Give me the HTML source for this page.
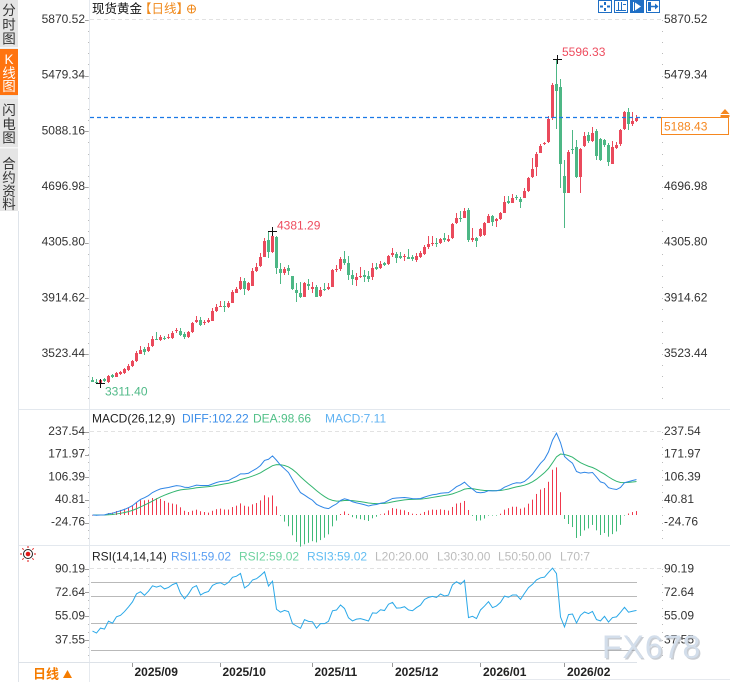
<!DOCTYPE html>
<html><head><meta charset="utf-8">
<style>
html,body{margin:0;padding:0;background:#fff;}
body{width:730px;height:682px;overflow:hidden;position:relative;}
svg{position:absolute;left:0;top:0;font-family:"Liberation Sans","Noto Sans CJK SC",sans-serif;}
.ax{font-size:12px;fill:#333;}
.sb{font-size:13.5px;fill:#333;text-anchor:middle;font-family:"Liberation Sans","Noto Sans CJK SC",sans-serif;}
.mo{font-size:12px;font-weight:bold;fill:#222;}
</style></head><body>
<svg width="730" height="682" viewBox="0 0 730 682">
<!-- sidebar -->
<rect x="0" y="0" width="18" height="211" fill="#e5e5e5"/>
<rect x="0" y="47" width="18" height="1.5" fill="#f6f6f6"/>
<rect x="0" y="49" width="18" height="46" fill="#ff7410"/>
<rect x="0" y="96" width="18" height="3" fill="#ececec"/>
<rect x="0" y="147" width="18" height="1.5" fill="#f6f6f6"/>
<text class="sb" x="9" y="15">分</text>
<text class="sb" x="9" y="29.5">时</text>
<text class="sb" x="9" y="43.5">图</text>
<text class="sb" x="9" y="64" style="fill:#fff">K</text>
<text class="sb" x="9" y="78" style="fill:#fff">线</text>
<text class="sb" x="9" y="91" style="fill:#fff">图</text>
<text class="sb" x="9" y="115">闪</text>
<text class="sb" x="9" y="129">电</text>
<text class="sb" x="9" y="142.5">图</text>
<text class="sb" x="9" y="168.5">合</text>
<text class="sb" x="9" y="182.5">约</text>
<text class="sb" x="9" y="196">资</text>
<text class="sb" x="9" y="209">料</text>
<line x1="18.5" y1="211" x2="18.5" y2="682" stroke="#dfe4ea"/>
<line x1="89.5" y1="0" x2="89.5" y2="682" stroke="#e6eaef"/>
<!-- panel separators -->
<line x1="19" y1="409.5" x2="730" y2="409.5" stroke="#e3e8ee"/>
<line x1="19" y1="545.5" x2="730" y2="545.5" stroke="#e3e8ee"/>
<line x1="19" y1="662.5" x2="637" y2="662.5" stroke="#dde2e8"/>
<line x1="497" y1="679.5" x2="730" y2="679.5" stroke="#e6e9ee"/>
<!-- top dashed grids -->
<line x1="90" y1="19.5" x2="661" y2="19.5" stroke="#e2e2e2" stroke-dasharray="4 3"/>
<line x1="90" y1="431.5" x2="661" y2="431.5" stroke="#e2e2e2" stroke-dasharray="4 3"/>
<line x1="90" y1="568.5" x2="661" y2="568.5" stroke="#e2e2e2" stroke-dasharray="4 3"/>
<g id="ticks"></g>
<!-- title -->
<text x="92" y="13" style="font-size:12.5px;fill:#111">现货黄金</text>
<text x="139" y="13" style="font-size:12.5px;fill:#f08a1c">【日线】</text>
<circle cx="191.5" cy="9" r="4" fill="none" stroke="#f08a1c" stroke-width="1"/>
<line x1="187.5" y1="9" x2="195.5" y2="9" stroke="#f08a1c"/>
<line x1="191.5" y1="5" x2="191.5" y2="13" stroke="#f08a1c"/>
<!-- top-right icons -->
<rect x="598.5" y="0.5" width="13" height="12" fill="#fff" stroke="#1f6fc5"/>
<rect x="604" y="2" width="2" height="3" fill="#1f6fc5"/><rect x="604" y="8" width="2" height="3" fill="#1f6fc5"/>
<rect x="600" y="5.5" width="3" height="2" fill="#1f6fc5"/><rect x="607" y="5.5" width="3" height="2" fill="#1f6fc5"/>
<rect x="614.5" y="0.5" width="13" height="12" fill="#fff" stroke="#1f6fc5"/>
<line x1="618.5" y1="2" x2="618.5" y2="10" stroke="#1f6fc5"/><line x1="621.5" y1="2" x2="621.5" y2="10" stroke="#1f6fc5"/>
<line x1="616" y1="10.5" x2="626" y2="10.5" stroke="#1f6fc5"/><line x1="623" y1="4.5" x2="626" y2="4.5" stroke="#1f6fc5"/>
<rect x="630.5" y="0.5" width="13" height="12" fill="#1f6fc5" stroke="#1f6fc5"/>
<line x1="633.5" y1="2" x2="633.5" y2="11" stroke="#fff"/><polygon points="635,2.5 641,6.5 635,10.5" fill="#fff"/>
<rect x="646.5" y="0.5" width="13" height="12" fill="#fff" stroke="#1f6fc5"/>
<rect x="648" y="2" width="3" height="9" fill="#1f6fc5"/><line x1="651" y1="6.5" x2="656" y2="6.5" stroke="#1f6fc5" stroke-width="1.5"/><polygon points="655,3.5 658.5,6.5 655,9.5" fill="#1f6fc5"/>
<!-- main axis labels -->
<g class="ax" text-anchor="end">
<text x="85" y="23">5870.52</text>
<text x="85" y="78.7">5479.34</text>
<text x="85" y="134.4">5088.16</text>
<text x="85" y="190">4696.98</text>
<text x="85" y="245.7">4305.80</text>
<text x="85" y="301.4">3914.62</text>
<text x="85" y="357.1">3523.44</text>
</g>
<g class="ax">
<text x="664" y="23">5870.52</text>
<text x="664" y="78.7">5479.34</text>
<text x="664" y="190">4696.98</text>
<text x="664" y="245.7">4305.80</text>
<text x="664" y="301.4">3914.62</text>
<text x="664" y="357.1">3523.44</text>
</g>
<!-- candles -->
<g id="candles"></g>
<!-- current price line -->
<line x1="90" y1="117.5" x2="661" y2="117.5" stroke="#1a78e6" stroke-width="1.2" stroke-dasharray="4 3"/>
<rect x="661.5" y="117.5" width="67" height="17" fill="#fff" stroke="#f5871f"/>
<text x="664" y="130.5" style="font-size:12px;fill:#f5871f">5188.43</text>
<polygon points="725,109 729.5,114 720.5,114" fill="#f5871f"/>
<rect x="720.5" y="115" width="9" height="2" fill="#f5871f"/>
<!-- hi/lo markers -->
<g stroke="#111" stroke-width="1">
<line x1="268" y1="231.5" x2="277" y2="231.5"/><line x1="272.5" y1="227" x2="272.5" y2="236"/>
<line x1="553" y1="59.5" x2="562" y2="59.5"/><line x1="557.5" y1="55" x2="557.5" y2="64"/>
<line x1="96" y1="383.5" x2="105" y2="383.5"/><line x1="100.5" y1="379" x2="100.5" y2="388"/>
</g>
<text x="277" y="229.5" style="font-size:12px;fill:#ee4d5f">4381.29</text>
<text x="562" y="56" style="font-size:12px;fill:#ee4d5f">5596.33</text>
<text x="105" y="395.5" style="font-size:12px;fill:#4fb987">3311.40</text>
<!-- MACD -->
<text x="92" y="422.5" style="font-size:12px;fill:#222">MACD(26,12,9)</text>
<text x="182" y="422.5" style="font-size:12px;fill:#3b8de8">DIFF:102.22</text>
<text x="253" y="422.5" style="font-size:12px;fill:#52c088">DEA:98.66</text>
<text x="325" y="422.5" style="font-size:12px;fill:#5fb2f2">MACD:7.11</text>
<g class="ax" text-anchor="end">
<text x="85" y="435">237.54</text>
<text x="85" y="457.6">171.97</text>
<text x="85" y="480.3">106.39</text>
<text x="85" y="503">40.81</text>
<text x="85" y="525.6">-24.76</text>
</g>
<g class="ax">
<text x="664" y="435">237.54</text>
<text x="664" y="457.6">171.97</text>
<text x="664" y="480.3">106.39</text>
<text x="664" y="503">40.81</text>
<text x="664" y="525.6">-24.76</text>
</g>
<g id="macd"></g>
<!-- RSI -->
<g transform="translate(28,554)">
<circle r="4.5" fill="none" stroke="#222"/>
<circle r="2.3" fill="#e01818"/>
<g stroke="#e01818" stroke-width="1">
<line x1="6" y1="0" x2="8" y2="0"/><line x1="-6" y1="0" x2="-8" y2="0"/>
<line x1="0" y1="6" x2="0" y2="8"/><line x1="0" y1="-6" x2="0" y2="-8"/>
<line x1="4.3" y1="4.3" x2="5.7" y2="5.7"/><line x1="-4.3" y1="4.3" x2="-5.7" y2="5.7"/>
<line x1="4.3" y1="-4.3" x2="5.7" y2="-5.7"/><line x1="-4.3" y1="-4.3" x2="-5.7" y2="-5.7"/>
</g></g>
<text x="92" y="560.5" style="font-size:12px;fill:#222">RSI(14,14,14)</text>
<text x="171" y="560.5" style="font-size:12px;fill:#5b9ff2">RSI1:59.02</text>
<text x="239" y="560.5" style="font-size:12px;fill:#6fd3a0">RSI2:59.02</text>
<text x="307" y="560.5" style="font-size:12px;fill:#62bdf2">RSI3:59.02</text>
<text x="375" y="560.5" style="font-size:12px;fill:#bcbcbc">L20:20.00</text>
<text x="437" y="560.5" style="font-size:12px;fill:#bcbcbc">L30:30.00</text>
<text x="498" y="560.5" style="font-size:12px;fill:#bcbcbc">L50:50.00</text>
<text x="560" y="560.5" style="font-size:12px;fill:#bcbcbc">L70:7</text>
<g stroke="#b9b9b9">
<line x1="91" y1="582.5" x2="637" y2="582.5"/>
<line x1="91" y1="596.5" x2="637" y2="596.5"/>
<line x1="91" y1="623.5" x2="637" y2="623.5"/>
<line x1="91" y1="650.5" x2="637" y2="650.5"/>
</g>
<g class="ax" text-anchor="end">
<text x="85" y="572.6">90.19</text>
<text x="85" y="595.8">72.64</text>
<text x="85" y="619.3">55.09</text>
<text x="85" y="643.3">37.55</text>
</g>
<g class="ax">
<text x="664" y="572.6">90.19</text>
<text x="664" y="595.8">72.64</text>
<text x="664" y="619.3">55.09</text>
<text x="664" y="643.3">37.55</text>
</g>
<g id="rsi"></g>
<!-- bottom axis -->
<g stroke="#999">
<line x1="132.5" y1="663" x2="132.5" y2="667"/>
<line x1="220.5" y1="663" x2="220.5" y2="667"/>
<line x1="312.5" y1="663" x2="312.5" y2="667"/>
<line x1="392.5" y1="663" x2="392.5" y2="667"/>
<line x1="480.5" y1="663" x2="480.5" y2="667"/>
<line x1="564.5" y1="663" x2="564.5" y2="667"/>
</g>
<text class="mo" x="134.5" y="676">2025/09</text>
<text class="mo" x="222.5" y="676">2025/10</text>
<text class="mo" x="314.5" y="676">2025/11</text>
<text class="mo" x="395" y="676">2025/12</text>
<text class="mo" x="483" y="676">2026/01</text>
<text class="mo" x="567" y="676">2026/02</text>
<line x1="19" y1="662.5" x2="89" y2="662.5" stroke="#dde2e8"/>
<text x="33" y="678.5" style="font-size:13px;font-weight:bold;fill:#f57c00">日线</text>
<polygon points="67.5,670 72,678 63,678" fill="#f57c00"/>
<!-- watermark -->
<text x="603.5" y="659.5" style="font-size:32px;fill:#9ea6b0;opacity:0.55;letter-spacing:1px">FX678</text>
<text x="602" y="658" style="font-size:32px;fill:#d3deeb;letter-spacing:1px">FX678</text>
</svg>
<script>
(function(){
var D="g,380.3,381.7,376.7,382.3;g,381.7,383.3,379.3,384;r,380.3,383.3,378.7,384;g,379,381,378,381.7;r,376,381.7,374.7,383.3;g,375.3,377.3,374.3,378;r,373,376.7,371.7,377.3;r,372,374,371.3,375;r,369.3,373,368,374;r,365.7,370,364,371;r,361.3,366,360,366.7;r,352.7,361.3,351,362;r,350,353.7,346,354.3;g,349,351.7,347.3,354.7;r,346.7,351,343.3,351.7;r,338.7,346,336,346.7;g,338.7,339.3,332,340;r,337.3,340,335,341;g,337.7,338.7,336,340.3;r,336.7,338.3,334.3,339;r,332.7,338,331.3,339;r,330.3,331.3,327.7,332.7;g,330.7,334.7,328.3,336;g,333.7,337.3,332,338.7;r,332,336.7,331,337.7;r,323.3,332,322,332.7;r,320.3,322.3,316,323;g,320,325,316.7,326;r,322,323.3,319.7,324.7;r,320.3,321.7,318,323.3;r,311,320.7,308.3,321.3;r,307.3,310.7,304,311.7;r,306,306.7,301,307.3;g,306,307,300.7,312.3;r,302.7,307.3,301,308.3;r,291.7,302.7,290,303.3;r,289,292.7,286.7,293.3;r,281,289.3,277.3,290;g,281,289,277.7,295;r,283.3,290,281.7,291.3;r,270.7,285.7,267.7,286.3;r,267,271,263.3,272;r,256.7,266.3,253.3,267;r,240.7,256.7,238.3,257.3;g,240,251.7,231,258.3;r,235.7,251.7,231.7,253.3;g,237.3,268.3,235.7,274;g,269,272.7,263.3,284.3;r,269,272.7,267.3,275;g,268.3,270.7,265,275;g,276,289.3,276,290;g,290,293.3,283.3,301.7;g,292.7,297.3,281.7,298.3;r,283.3,296.7,282.3,297.3;g,284,286,279,290;r,286.7,289,282.3,293.3;g,286.7,296.7,285.3,297.3;r,290,296,286.7,296.7;g,288.7,290,283.3,290.7;r,286.7,289.3,283.3,290;r,270,286.7,269,287.3;r,268.7,270,265,271.7;r,259.3,269.3,257.3,270.7;g,259.3,263.3,251,265;g,263.3,275,256,280;g,275,279.3,270,285;r,276.7,280,273.3,285.7;r,276,276.7,266.7,278.3;g,275.3,277.3,270,281.7;g,276,278.7,271,282.3;r,268.3,276.7,263.3,280;g,267,268.7,263.3,270;r,264,267.7,260.7,268.7;g,263.3,264.7,261.7,266;r,256,263.7,255,264.7;r,253.3,255,248.3,256.7;g,254,258,251.7,262.7;g,256,257.7,251.7,259.3;r,256.3,257.3,254,260.7;g,257,258.7,249,258.7;g,257.3,259.3,255,260.7;r,256,260,253.3,261.7;r,253.3,256.7,251,258.3;r,246.7,254,245,255;r,244,247.3,236,249.3;r,242.7,244,236,246;g,242.7,243.3,237.7,246.7;r,239,243.3,238.3,244;g,238,240,232.7,241.7;r,239,240.7,235,242.3;r,224,238.3,222.7,239;r,217.7,223.3,213.3,224;g,218,219,211,221.7;r,211,217.7,207.7,218.3;g,210,240,207.7,242.3;r,238.3,240,228.3,241.7;g,238.3,240.7,236.7,246.7;r,229.3,235.7,228.3,236.7;r,223.3,235,221.7,235.7;r,216,222.7,214.3,223.3;g,216,221.7,214.7,225.7;r,219,220.7,218.3,227.3;r,213.3,219,211.7,220;r,201.7,212.7,195.7,213.3;g,200.7,202.7,196,204;r,198.3,202.7,194.3,203.3;g,196.7,198.3,195.3,200;g,199,201.7,196.7,208.3;r,191,197.7,188.3,198.3;r,178,190.7,176.7,191.7;r,169,177.3,158.3,178.3;r,154.3,167.3,151.7,175.7;r,146,152.7,144.3,153.3;r,143.3,144.3,141.7,145;r,119.3,141.7,116,142.7;r,84.7,118.3,83.3,120;g,84,90.7,59,129;g,87.3,164,79,187.7;g,176,192.7,160,228.3;r,152,192.7,150,193.3;g,148.7,149.7,130,154;g,147.3,177.3,140,178.3;r,149.3,177.3,148.3,192.7;r,136,146,131.7,146.7;g,135,140.7,131.7,143.3;r,132.7,140.7,127.3,141.7;g,130.7,156,129,160;g,139.3,160,138.3,160.7;g,140,145,139,146.7;g,145,161.7,143.3,166;r,147.3,164,140.7,164;r,145,148.3,141.7,149.3;r,130,144,129,145.7;r,112,129,110.7,130;g,112,124,107.7,130;r,120.7,124,112,125.7;r,118,120.7,115,121.7";
var C=D.split(';').map(function(s){var a=s.split(',');return [a[0],+a[1],+a[2],+a[3],+a[4]];});
var RED="#ea4a5c",GRN="#4db785";
var h='';
C.forEach(function(c,i){
  var x=92+i*4,col=c[0]=='r'?RED:GRN;
  var wt=Math.round(c[3]),wb=Math.round(c[4]),bt=Math.round(c[1]),bb=Math.round(c[2]);
  if(bb-bt<1)bb=bt+1;
  h+='<rect x="'+x+'" y="'+wt+'" width="1" height="'+Math.max(1,wb-wt)+'" fill="'+col+'"/>';
  h+='<rect x="'+(x-1)+'" y="'+bt+'" width="3" height="'+(bb-bt)+'" fill="'+col+'"/>';
});
document.getElementById('candles').innerHTML=h;
var Z=515;
var P=C.map(function(c){return 5870.52-((c[0]=='r'?c[1]:c[2])-19.9)/0.14231;});
var e12=P[0],e26=P[0],dea=0,dp='',ep='',bars='';
P.forEach(function(p,i){
  if(i>0){e12=(2*p+11*e12)/13;e26=(2*p+25*e26)/27;}
  var diff=e12-e26; dea=i==0?0:(2*diff+8*dea)/10; var m=2*(diff-dea);
  var x=92+i*4+0.5;
  dp+=(i?'L':'M')+x+','+(Z-diff*0.346).toFixed(2);
  ep+=(i?'L':'M')+x+','+(Z-dea*0.346).toFixed(2);
  var y1=Z-m*0.346;
  bars+='<rect x="'+(x-0.5)+'" y="'+Math.min(Z,y1).toFixed(2)+'" width="1" height="'+Math.max(0.6,Math.abs(y1-Z)).toFixed(2)+'" fill="'+(m>=0?'#f0384c':'#3fba78')+'"/>';
});
document.getElementById('macd').innerHTML=bars+'<path d="'+ep+'" fill="none" stroke="#32b56f" stroke-width="1"/><path d="'+dp+'" fill="none" stroke="#2f86e6" stroke-width="1"/>';
var up=11,ab=25,rp='';
P.forEach(function(p,i){
  if(i>0){var d=p-P[i-1];up=(Math.max(d,0)+13*up)/14;ab=(Math.abs(d)+13*ab)/14;}
  var r=100*up/ab;var x=92+i*4+0.5;
  rp+=(i?'L':'M')+x+','+(690.6-r*1.354).toFixed(2);
});
document.getElementById('rsi').innerHTML='<path d="'+rp+'" fill="none" stroke="#2aa8e8" stroke-width="1"/>';
var t='';
for(var k=0;k<7;k++){var y=Math.round(19.9+k*55.67)+0.5;t+='<line x1="85" y1="'+y+'" x2="89" y2="'+y+'" stroke="#a0a0a0"/>';}
for(var y2=19.9;y2<408;y2+=11.134){var yy=Math.round(y2);t+='<rect x="88" y="'+yy+'" width="1" height="1" fill="#bbb"/><rect x="662" y="'+yy+'" width="1" height="1" fill="#bbb"/>';}
for(var y3=431.8;y3<544;y3+=7.56){var yy3=Math.round(y3);t+='<rect x="88" y="'+yy3+'" width="1" height="1" fill="#bbb"/><rect x="662" y="'+yy3+'" width="1" height="1" fill="#bbb"/>';}
for(var y4=568.5;y4<661;y4+=7.9){var yy4=Math.round(y4);t+='<rect x="88" y="'+yy4+'" width="1" height="1" fill="#bbb"/><rect x="662" y="'+yy4+'" width="1" height="1" fill="#bbb"/>';}
var mk=[431.8,454.5,477.2,499.9,522.6];mk.forEach(function(y){var yy=Math.round(y)+0.5;t+='<line x1="85" y1="'+yy+'" x2="89" y2="'+yy+'" stroke="#a0a0a0"/>';});
var rk=[568.5,592.2,616,639.8];rk.forEach(function(y){var yy=Math.round(y)+0.5;t+='<line x1="85" y1="'+yy+'" x2="89" y2="'+yy+'" stroke="#a0a0a0"/>';});
document.getElementById('ticks').innerHTML=t;
})();
</script>
</body></html>
